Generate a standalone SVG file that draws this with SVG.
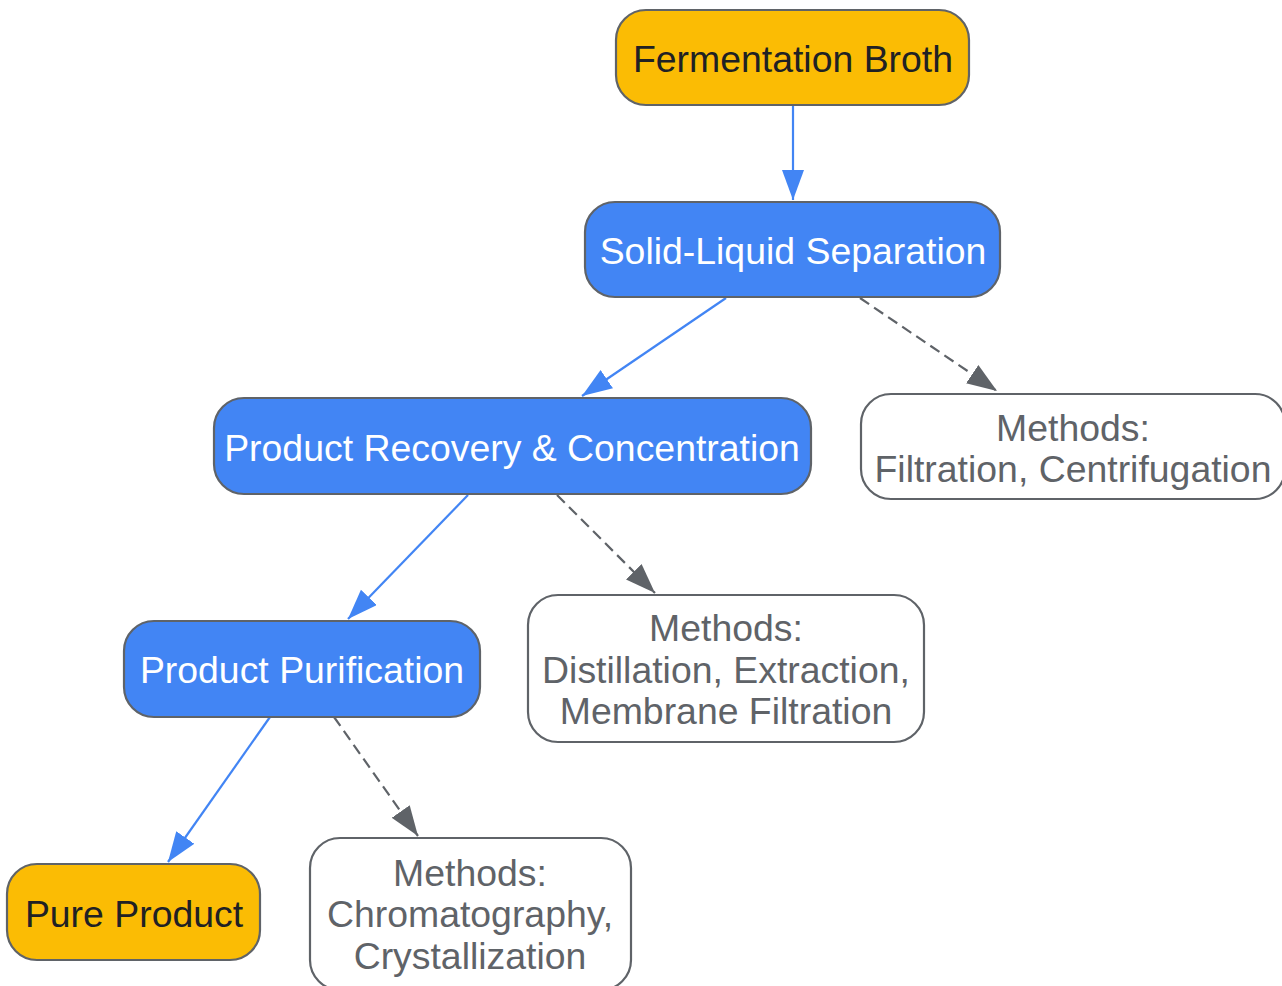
<svg xmlns="http://www.w3.org/2000/svg" width="1282" height="986" viewBox="0 0 1282 986">
<style>
.n rect{stroke:#5f6368;stroke-width:2.2}
.main rect{fill:#4285f4}
.end rect{fill:#fbbc04}
.m rect{fill:#ffffff}
text{font-family:"Liberation Sans",Arial,sans-serif;font-size:37.4px;text-anchor:middle}
.main text{fill:#ffffff}
.end text{fill:#202124}
.m text{fill:#5f6368}
.e{fill:none;stroke-width:2.2}
.s{stroke:#4285f4}
.d{stroke:#5f6368;stroke-dasharray:11 6}
</style>
<defs>
<marker id="ab" markerUnits="userSpaceOnUse" markerWidth="32" markerHeight="24" refX="30" refY="11" orient="auto"><path d="M0,0 L30,11 L0,22 Z" fill="#4285f4"/></marker>
<marker id="ag" markerUnits="userSpaceOnUse" markerWidth="32" markerHeight="24" refX="30" refY="11" orient="auto"><path d="M0,0 L30,11 L0,22 Z" fill="#5f6368"/></marker>
</defs>
<rect width="1282" height="986" fill="#ffffff"/>
<g id="connectors">
<path class="e s" d="M793,106 L793,200" marker-end="url(#ab)"/>
<path class="e s" d="M726,298 L582,396" marker-end="url(#ab)"/>
<path class="e d" d="M860,298 L997,391" marker-end="url(#ag)"/>
<path class="e s" d="M468,495 L348,619" marker-end="url(#ab)"/>
<path class="e d" d="M557,495 L655,593" marker-end="url(#ag)"/>
<path class="e s" d="M270,717 L168,862" marker-end="url(#ab)"/>
<path class="e d" d="M334,717 L418,836" marker-end="url(#ag)"/>
</g>
<g id="fermentation" class="n end"><rect x="616" y="10" width="353" height="95" rx="30"/><text x="793" y="72">Fermentation Broth</text></g>
<g id="solid-liquid" class="n main"><rect x="585" y="202" width="415" height="95" rx="30"/><text x="793" y="264">Solid-Liquid Separation</text></g>
<g id="methods1" class="n m"><rect x="861" y="394" width="424" height="105" rx="30"/><text x="1073" y="441">Methods:</text><text x="1073" y="482">Filtration, Centrifugation</text></g>
<g id="recovery" class="n main"><rect x="214" y="398" width="597" height="96" rx="30"/><text x="512" y="461">Product Recovery &amp; Concentration</text></g>
<g id="purification" class="n main"><rect x="124" y="621" width="356" height="96" rx="30"/><text x="302" y="683">Product Purification</text></g>
<g id="methods2" class="n m"><rect x="528" y="595" width="396" height="147" rx="30"/><text x="726" y="641">Methods:</text><text x="726" y="683">Distillation, Extraction,</text><text x="726" y="724">Membrane Filtration</text></g>
<g id="pure" class="n end"><rect x="7" y="864" width="253" height="96" rx="30"/><text x="134" y="927">Pure Product</text></g>
<g id="methods3" class="n m"><rect x="310" y="838" width="321" height="152" rx="30"/><text x="470" y="886">Methods:</text><text x="470" y="927">Chromatography,</text><text x="470" y="969">Crystallization</text></g>
</svg>
